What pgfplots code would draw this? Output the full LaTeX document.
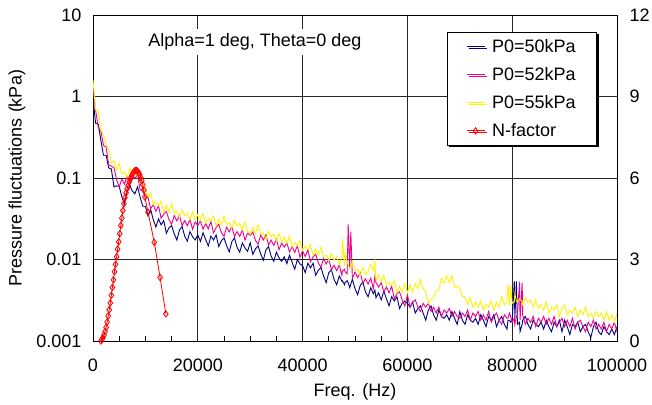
\documentclass[border=0pt]{standalone}
\usepackage{fontspec}
\setmainfont{Liberation Sans}
\usepackage{pgfplots}
\usepackage{pgfplotstable}
\pgfplotsset{compat=1.18}
\usetikzlibrary{shadows}

\definecolor{navy}{RGB}{0,0,128}

% pressure spectra, f in Hz, values in kPa (b: 50 kPa, m: 52 kPa, y: 55 kPa)
\pgfplotstableread{
f b m y
0 0.95 1.3 1.6
500 0.47 0.68 0.69
1000 0.46 0.42 0.67
1500 0.29 0.38 0.39
2000 0.19 0.25 0.34
2500 0.19 0.24 0.25
3000 0.133 0.145 0.235
3500 0.129 0.14 0.153
4000 0.078 0.134 0.163
4500 0.080 0.095 0.126
5000 0.079 0.078 0.153
5500 0.059 0.097 0.113
6000 0.048 0.084 0.118
6500 0.067 0.104 0.103
7000 0.082 0.087 0.132
7500 0.069 0.109 0.119
8000 0.064 0.099 0.133
8500 0.078 0.11 0.105
9000 0.058 0.071 0.114
9500 0.045 0.073 0.077
10000 0.045 0.057 0.078
10500 0.034 0.058 0.058
11000 0.041 0.042 0.066
11500 0.031 0.047 0.047
12000 0.025 0.039 0.051
12500 0.0315 0.046 0.046
13000 0.0266 0.032 0.052
13500 0.030 0.036 0.038
14000 0.021 0.039 0.046
14500 0.0245 0.031 0.038
15000 0.026 0.027 0.048
15500 0.0207 0.0346 0.037
16000 0.0173 0.0298 0.039
16500 0.023 0.0345 0.033
17000 0.0253 0.026 0.0407
17500 0.0194 0.030 0.0346
18000 0.0168 0.026 0.037
18500 0.022 0.031 0.0307
19000 0.019 0.0235 0.0388
19500 0.0174 0.0289 0.0305
20000 0.020 0.0261 0.0356
20500 0.0167 0.0298 0.0301
21000 0.0213 0.0235 0.0371
21500 0.0176 0.0276 0.028
22000 0.0147 0.0238 0.032
22500 0.0194 0.0292 0.0295
23000 0.0173 0.0213 0.0343
23500 0.020 0.0246 0.0257
24000 0.0144 0.0271 0.0313
24500 0.017 0.0214 0.0265
25000 0.0184 0.0192 0.0342
25500 0.0148 0.0249 0.0267
26000 0.0124 0.0218 0.0283
26500 0.0166 0.0253 0.0243
27000 0.0184 0.0191 0.0301
27500 0.0141 0.022 0.0257
28000 0.0123 0.0192 0.0279
28500 0.016 0.023 0.0229
29000 0.0139 0.0173 0.0287
29500 0.0126 0.021 0.0224
30000 0.016 0.0198 0.0205
30500 0.0116 0.0218 0.0248
31000 0.0135 0.0172 0.0208
31500 0.0147 0.0154 0.0267
32000 0.0117 0.020 0.0206
32500 0.0098 0.0174 0.021
33000 0.0131 0.0201 0.0178
33500 0.0144 0.0151 0.0221
34000 0.011 0.0173 0.0189
34500 0.0095 0.0149 0.0205
35000 0.0123 0.0177 0.0168
35500 0.0105 0.0132 0.021
36000 0.0095 0.0159 0.0164
36500 0.0108 0.0142 0.019
37000 0.0089 0.016 0.0157
37500 0.0113 0.0124 0.0192
38000 0.0092 0.0144 0.0143
38500 0.0076 0.0122 0.0162
39000 0.010 0.0148 0.0147
39500 0.0088 0.0106 0.017
40000 0.0084 0.0128 0.013
40500 0.0069 0.0109 0.0147
41000 0.009 0.0132 0.0133
41500 0.0079 0.0094 0.0152
42000 0.009 0.0108 0.0112
42500 0.0064 0.0116 0.0134
43000 0.0074 0.0091 0.0112
43500 0.008 0.008 0.0142
44000 0.0063 0.0103 0.0109
44500 0.0052 0.0088 0.0113
45000 0.0069 0.0101 0.0096
45500 0.0075 0.0075 0.0118
46000 0.0057 0.0085 0.0099
46500 0.0049 0.0073 0.0106
47000 0.0063 0.0086 0.0086
47500 0.0054 0.0064 0.0107
47600 0.0055 0.0072 0.018
48000 0.0049 0.0076 0.0083
48100 0.0052 0.0071 0.012
48500 0.0055 0.0067 0.0095
48700 0.0052 0.027 0.0085
49000 0.0045 0.0076 0.0078
49200 0.005 0.022 0.0082
49500 0.0057 0.0059 0.0094
50000 0.0044 0.007 0.0073
50500 0.0037 0.006 0.0076
51000 0.0048 0.0069 0.0064
51500 0.0053 0.0051 0.0079
52000 0.004 0.0058 0.0066
52500 0.0035 0.005 0.0071
53000 0.0045 0.0059 0.0088
53500 0.0038 0.0044 0.0073
53800 0.0042 0.0062 0.0095
54000 0.0034 0.0052 0.0056
54500 0.0039 0.0046 0.0065
55000 0.0032 0.0052 0.0053
55500 0.0041 0.004 0.0064
56000 0.0033 0.0046 0.0048
56500 0.0027 0.0039 0.0053
57000 0.0035 0.0047 0.0048
57500 0.0031 0.0033 0.0054
58000 0.0035 0.0038 0.0039
58500 0.0025 0.004 0.0047
59000 0.0029 0.0032 0.0039
59500 0.0031 0.0027 0.005
60000 0.0029 0.0037 0.0039
60500 0.0026 0.0026 0.0049
61000 0.003 0.003 0.004
61500 0.0022 0.0032 0.0051
62000 0.0025 0.0026 0.0044
62500 0.0027 0.0023 0.0057
63000 0.0022 0.0029 0.0044
63500 0.0018 0.0026 0.004
64000 0.0024 0.0029 0.0029
64500 0.0027 0.0023 0.0033
65000 0.0021 0.0026 0.0033
65500 0.0018 0.0022 0.0042
66000 0.0024 0.0026 0.0042
66500 0.002 0.002 0.0059
67000 0.0019 0.0024 0.0051
67500 0.0021 0.0022 0.0063
68000 0.0018 0.0025 0.0052
68500 0.0023 0.002 0.0063
69000 0.0019 0.0023 0.0046
69500 0.0016 0.002 0.0047
70000 0.0023 0.0019 0.0044
70500 0.0018 0.0022 0.0035
71000 0.0016 0.002 0.0035
71500 0.0021 0.0024 0.0028
72000 0.0018 0.0018 0.0034
72500 0.0017 0.0022 0.0026
73000 0.0019 0.002 0.003
73500 0.0016 0.0023 0.0026
74000 0.0021 0.0018 0.0031
74500 0.0018 0.0021 0.0024
75000 0.0015 0.0018 0.0028
75500 0.002 0.0023 0.0026
76000 0.0018 0.0017 0.0031
76500 0.0021 0.002 0.0024
77000 0.0015 0.0022 0.003
77500 0.0018 0.0018 0.0026
78000 0.002 0.0016 0.0035
78500 0.0016 0.0021 0.0028
79000 0.0014 0.0019 0.003
79200 0.0018 0.0019 0.005
79500 0.0018 0.0022 0.0027
79700 0.0017 0.002 0.0048
80000 0.0018 0.0017 0.0029
80400 0.0054 0.0019 0.003
80500 0.0019 0.0016 0.0038
80800 0.0054 0.002 0.0031
81000 0.0016 0.0021 0.003
81400 0.0017 0.0053 0.0033
81500 0.0013 0.0018 0.0032
81900 0.0016 0.0052 0.0031
82000 0.0018 0.0021 0.0028
82500 0.002 0.0016 0.0034
83000 0.0016 0.0019 0.003
83500 0.0014 0.0017 0.0032
84000 0.0018 0.002 0.0026
84500 0.0016 0.0015 0.0032
85000 0.0015 0.0019 0.0025
85500 0.0017 0.0017 0.0028
86000 0.0014 0.002 0.0024
86500 0.0018 0.0016 0.003
87000 0.0015 0.0019 0.0022
87500 0.0013 0.0016 0.0026
88000 0.0017 0.002 0.0024
88500 0.0015 0.0015 0.0028
89000 0.0018 0.0017 0.002
89500 0.0013 0.0019 0.0025
90000 0.0018 0.0015 0.0028
90500 0.0015 0.0018 0.0021
91000 0.0012 0.0015 0.0024
91500 0.0016 0.0019 0.0022
92000 0.0015 0.0014 0.0026
92500 0.0017 0.0017 0.002
93000 0.0013 0.0018 0.0024
93500 0.0015 0.0015 0.0021
94000 0.0016 0.0013 0.0026
94500 0.0013 0.0017 0.002
95000 0.0011 0.0015 0.0022
95500 0.0015 0.0018 0.0019
96000 0.0017 0.0014 0.0023
96500 0.0013 0.0016 0.002
97000 0.0012 0.0014 0.0022
97500 0.0015 0.0017 0.0018
98000 0.0013 0.0013 0.0023
98500 0.0012 0.0016 0.0018
99000 0.0014 0.0014 0.0021
99500 0.0012 0.0017 0.0017
100000 0.0015 0.0013 0.0022
}\spectra

% N-factor (right axis)
\pgfplotstableread{
f n
1500 0.0
1700 0.05
1900 0.12
2100 0.22
2300 0.35
2500 0.5
2700 0.7
2900 0.92
3100 1.15
3300 1.4
3500 1.68
3700 1.97
3900 2.25
4100 2.55
4300 2.82
4500 3.1
4700 3.38
4900 3.65
5100 3.95
5300 4.25
5500 4.52
5700 4.8
5900 5.05
6100 5.28
6300 5.45
6500 5.6
6700 5.72
6900 5.85
7100 5.95
7300 6.05
7500 6.13
7700 6.2
7900 6.25
8100 6.28
8300 6.28
8500 6.25
8700 6.2
8900 6.12
9100 6.02
9300 5.9
9500 5.75
9700 5.55
9900 5.3
10500 4.74
11700 3.63
12800 2.34
13900 1.0
}\nfactor

\begin{document}
\begin{tikzpicture}
\pgfplotsset{
  every axis/.append style={
    scale only axis, width=524pt, height=326pt,
    xmin=0, xmax=100000,
    scaled x ticks=false,
    axis line style={black, line width=1pt},
    tick style={black, line width=0.8pt},
    tick align=inside,
    ticklabel style={font=\fontsize{18}{21}\selectfont},
    label style={font=\fontsize{18}{21}\selectfont},
    /pgf/number format/assume math mode=true,
  },
}
\begin{axis}[
  ymode=log, ymin=0.001, ymax=10,
  ytick={0.001,0.01,0.1,1,10},
  yticklabels={0.001,0.01,0.1,1,10},
  yminorticks=false,
  xtick={0,20000,40000,60000,80000,100000},
  xticklabels={0,20000,40000,60000,80000,100000},
  minor xtick={5000,10000,15000,25000,30000,35000,45000,50000,55000,65000,70000,75000,85000,90000,95000},
  minor tick length=5pt, major tick length=0pt,
  xtick pos=bottom, ytick pos=left,
  grid=major, major grid style={black!85, line width=0.8pt},
  xticklabel style={yshift=-14pt},
  yticklabel style={xshift=-8pt},
  xlabel={Freq. (Hz)},
  ylabel={Pressure fluctuations (kPa)},
  xlabel style={at={(axis description cs:0.5,-0.157)}, anchor=center},
  ylabel style={at={(axis description cs:-0.145,0.5)}, anchor=center},
]
\addplot[navy, line width=0.9pt] table[x=f, y=b] {\spectra};
\addplot[magenta, line width=0.9pt] table[x=f, y=m] {\spectra};
\addplot[yellow, line width=0.9pt] table[x=f, y=y] {\spectra};
\node[fill=white, inner sep=5pt, font=\fontsize{18}{21}\selectfont]
  at (axis description cs:0.309,0.917) {Alpha=1 deg, Theta=0 deg};
\end{axis}

\begin{axis}[
  axis x line=none, axis y line*=right,
  ymin=0, ymax=12,
  ytick={0,3,6,9,12}, yticklabels={0,3,6,9,12},
  major tick length=0pt,
  yticklabel style={xshift=9pt},
  legend cell align=left,
  legend image code/.code={%
    \draw[mark repeat=2, mark phase=2, #1] plot coordinates {(0pt,0pt) (9pt,0pt) (18pt,0pt)};},
  legend style={at={(axis description cs:0.962,0.948)}, anchor=north east,
    draw=black, line width=1pt, fill=white,
    font=\fontsize{18}{21}\selectfont,
    nodes={inner xsep=2pt},
    inner xsep=19pt, inner ysep=5pt, row sep=9.5pt,
    drop shadow={shadow xshift=2pt, shadow yshift=-2pt, fill=black, opacity=1}},
]
\addlegendimage{navy, line width=0.9pt}
\addlegendentry{\hspace*{5pt}P0=50kPa}
\addlegendimage{magenta, line width=0.9pt}
\addlegendentry{\hspace*{5pt}P0=52kPa}
\addlegendimage{yellow, line width=0.9pt}
\addlegendentry{\hspace*{5pt}P0=55kPa}
\addplot[red, line width=0.8pt, mark=diamond, mark size=3.2pt, mark options={solid}] table[x=f, y=n] {\nfactor};
\addlegendentry{\hspace*{5pt}N-factor}
\end{axis}
\pgfresetboundingbox
\path[use as bounding box] (-93pt,-63pt) rectangle (559pt,341pt);
\end{tikzpicture}
\end{document}
